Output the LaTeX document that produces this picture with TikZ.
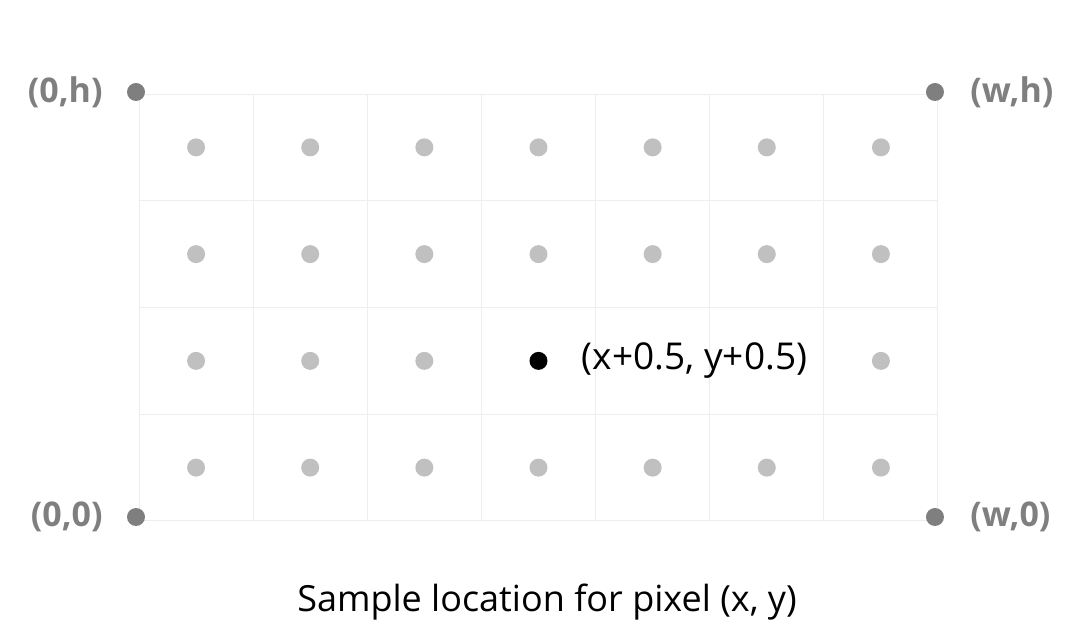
\documentclass[tikz,border=0pt]{standalone}
\usepackage{fontspec}
\setmainfont{Open Sans}
\usetikzlibrary{positioning}
\definecolor{gridgray}{HTML}{EEEEEE}
\definecolor{dotgray}{HTML}{C0C0C0}
\definecolor{cornergray}{HTML}{7F7F7F}
\tikzstyle{sample}=[circle, fill=dotgray, inner sep=0pt, minimum size=18pt]
\tikzstyle{corner}=[sample, fill=cornergray]
\tikzstyle{chosen}=[sample, fill=black]
\tikzstyle{cornerlabel}=[inner sep=0pt, text=cornergray, font=\bfseries\fontsize{34}{40}\selectfont]
\tikzstyle{plainlabel}=[inner sep=0pt, font=\fontsize{36}{42}\selectfont]

\begin{document}
\begin{tikzpicture}[x=1pt, y=1pt]
    \useasboundingbox (0,0) rectangle (1086,634);
    \begin{scope}[shift={(139,113)}, x=114.14pt, y=106.75pt]
      % pixel grid
      \draw[gridgray, line width=1pt] (0,0) grid[step=1] (7,4);
      % sample points at pixel centres
      \foreach \i in {0,...,6}
        \foreach \j in {0,...,3} {
          \ifnum\j=1 \ifnum\i>2 \ifnum\i<6 \else
            \node[sample] (s-\i-\j) at (\i+0.5,\j+0.5) {};
          \fi \else
            \node[sample] (s-\i-\j) at (\i+0.5,\j+0.5) {};
          \fi \else
            \node[sample] (s-\i-\j) at (\i+0.5,\j+0.5) {};
          \fi
        }
      \node[chosen] (pick) at (3.5,1.5) {};
      \node[plainlabel, font=\fontsize{37}{42}\selectfont, right=34pt of pick] (picklabel) {(x+0.5, y+0.5)};

      % corners of the image
      \node[corner] (c00) at ([shift={(-3pt,4pt)}]0,0) {};
      \node[corner] (c0h) at ([shift={(-3pt,2pt)}]0,4) {};
      \node[corner] (cw0) at ([shift={(-3pt,4pt)}]7,0) {};
      \node[corner] (cwh) at ([shift={(-3pt,2pt)}]7,4) {};
    \end{scope}

    \node[cornerlabel, left=24pt of c00] {(0,0)};
    \node[cornerlabel, left=24pt of c0h] {(0,h)};
    \node[cornerlabel, right=26pt of cw0] {(w,0)};
    \node[cornerlabel, right=26pt of cwh] {(w,h)};

    \node[plainlabel] (caption) at (547,32) {Sample location for pixel (x, y)};
\end{tikzpicture}
\end{document}
